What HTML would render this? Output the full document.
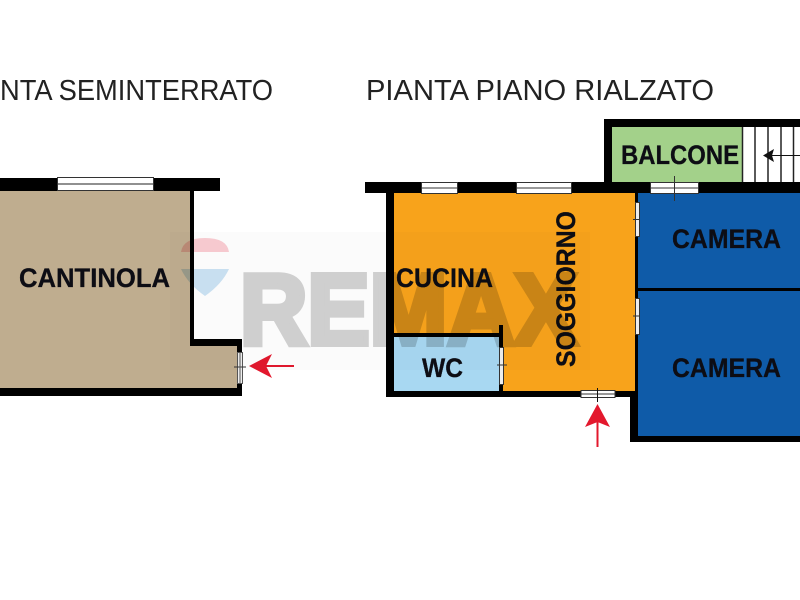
<!DOCTYPE html>
<html><head><meta charset="utf-8"><style>
html,body{margin:0;padding:0;background:#fff;width:800px;height:600px;overflow:hidden}
svg{display:block}
text{font-family:"Liberation Sans",sans-serif}
.l{font-weight:bold;fill:#0d0d14;font-size:27px;stroke:#0d0d14;stroke-width:.3}
.t{font-size:29px;fill:#222}
</style></head><body>
<svg width="800" height="600" viewBox="0 0 800 600" xmlns="http://www.w3.org/2000/svg">
<rect width="800" height="600" fill="#fff"/>
<text class="t" x="0" y="100" textLength="273" lengthAdjust="spacingAndGlyphs">NTA SEMINTERRATO</text>
<text class="t" x="366" y="100" textLength="348" lengthAdjust="spacingAndGlyphs">PIANTA PIANO RIALZATO</text>

<!-- Cantinola -->
<path d="M0 191H190V346H237V388H0Z" fill="#bfad8f"/>
<rect x="0" y="178" width="220" height="13" fill="#000"/>
<rect x="190" y="191" width="4" height="155" fill="#000"/>
<rect x="190" y="339" width="52" height="7" fill="#000"/>
<rect x="237" y="339" width="5" height="57" fill="#000"/>
<rect x="0" y="388" width="242" height="8" fill="#000"/>
<rect x="57.5" y="177.5" width="96" height="13" fill="#fff" stroke="#333" stroke-width="1"/>
<line x1="58" y1="184" x2="153" y2="184" stroke="#222" stroke-width="1"/>
<rect x="237.5" y="352.5" width="5" height="31" fill="#eee" stroke="#555" stroke-width="1"/>
<line x1="234" y1="367" x2="246" y2="367" stroke="#333" stroke-width="1"/>
<line x1="240" y1="353" x2="240" y2="383" stroke="#555" stroke-width="1"/>

<!-- Piano rialzato fills -->
<rect x="394" y="193" width="241" height="198" fill="#f8a31b"/>
<rect x="394" y="337" width="105" height="54" fill="#a8d8f2"/>
<rect x="638" y="193" width="162" height="95" fill="#0f5ba8"/>
<rect x="638" y="291" width="162" height="145" fill="#0f5ba8"/>
<rect x="612" y="127" width="130" height="55" fill="#a3d18a"/>

<!-- Walls -->
<rect x="365" y="182" width="435" height="11" fill="#000"/>
<rect x="386" y="182" width="8" height="215" fill="#000"/>
<rect x="386" y="391" width="246" height="6" fill="#000"/>
<rect x="394" y="333" width="109" height="4" fill="#000"/>
<rect x="499" y="325" width="4" height="72" fill="#000"/>
<rect x="635" y="193" width="3" height="200" fill="#000"/>
<rect x="630" y="391" width="8" height="51" fill="#000"/>
<rect x="630" y="436" width="170" height="6" fill="#000"/>
<rect x="638" y="288" width="162" height="3" fill="#000"/>
<rect x="604" y="119" width="8" height="70" fill="#000"/>
<rect x="604" y="119" width="196" height="8" fill="#000"/>

<!-- Stairs -->
<g stroke="#222" stroke-width="1.5">
<line x1="742.5" y1="127" x2="742.5" y2="182"/>
<line x1="755" y1="127" x2="755" y2="182"/>
<line x1="768" y1="127" x2="768" y2="182"/>
<line x1="781" y1="127" x2="781" y2="182"/>
<line x1="793.5" y1="127" x2="793.5" y2="182"/>
</g>
<line x1="770" y1="155.5" x2="800" y2="155.5" stroke="#111" stroke-width="1"/>
<path d="M763 155.5L774 149L772 155.5L774 162Z" fill="#111"/>

<!-- Windows and doors -->
<g fill="#fff" stroke="#333" stroke-width="1">
<rect x="421.5" y="182.5" width="36" height="11"/>
<rect x="516.5" y="182.5" width="55" height="11"/>
<rect x="650.5" y="182.5" width="48" height="11"/>
<rect x="635.5" y="202.5" width="4" height="34" fill="#eee"/>
<rect x="635.5" y="298.5" width="4" height="36" fill="#eee"/>
<rect x="499.5" y="347.5" width="4" height="37" fill="#eee"/>
<rect x="581" y="390.5" width="34" height="7" fill="#fff"/>
</g>
<g stroke="#333" stroke-width="1">
<line x1="422" y1="188" x2="457" y2="188"/>
<line x1="517" y1="188" x2="571" y2="188"/>
<line x1="651" y1="188" x2="698" y2="188"/>
<line x1="674.5" y1="176" x2="674.5" y2="201"/>
<line x1="581" y1="394" x2="615" y2="394"/>
<line x1="597.5" y1="388" x2="597.5" y2="402" stroke="#111"/>
<line x1="633" y1="219.5" x2="640" y2="219.5"/>
<line x1="633" y1="316" x2="640" y2="316"/>
<line x1="497" y1="365" x2="507" y2="365"/>
</g>

<!-- Red arrows -->
<line x1="262" y1="366" x2="294" y2="366" stroke="#e3182d" stroke-width="2"/>
<path d="M249 366L272 354L266 366L272 378Z" fill="#e3182d"/>
<line x1="597.5" y1="420" x2="597.5" y2="447" stroke="#e3182d" stroke-width="2"/>
<path d="M597.5 404L585 427L597.5 422L610 427Z" fill="#e3182d"/>

<!-- Labels -->
<text class="l" x="19" y="287" textLength="151" lengthAdjust="spacingAndGlyphs">CANTINOLA</text>
<text class="l" x="396" y="287" textLength="97" lengthAdjust="spacingAndGlyphs">CUCINA</text>
<text class="l" x="422" y="377" textLength="41" lengthAdjust="spacingAndGlyphs">WC</text>
<text class="l" x="621" y="164" textLength="118" lengthAdjust="spacingAndGlyphs">BALCONE</text>
<text class="l" x="672" y="248" textLength="109" lengthAdjust="spacingAndGlyphs">CAMERA</text>
<text class="l" x="672" y="377" textLength="109" lengthAdjust="spacingAndGlyphs">CAMERA</text>
<text class="l" transform="translate(575 367) rotate(-90)" x="0" y="0" textLength="156" lengthAdjust="spacingAndGlyphs">SOGGIORNO</text>

<!-- Watermark -->
<g style="mix-blend-mode:multiply">
<rect x="170" y="232" width="420" height="138" fill="#fbfbfb"/>
<path d="M181 252Q183 238 205 238Q227 238 229 252Z" fill="#f6c9cf"/>
<path d="M181 269H229Q222 284 205 296Q188 284 181 269Z" fill="#c8dff0"/>
<text x="240" y="344" font-size="100" font-weight="bold" fill="#cfcfcf" stroke="#cfcfcf" stroke-width="6" textLength="337" lengthAdjust="spacingAndGlyphs">REMAX</text>
</g>
</svg>
</body></html>
